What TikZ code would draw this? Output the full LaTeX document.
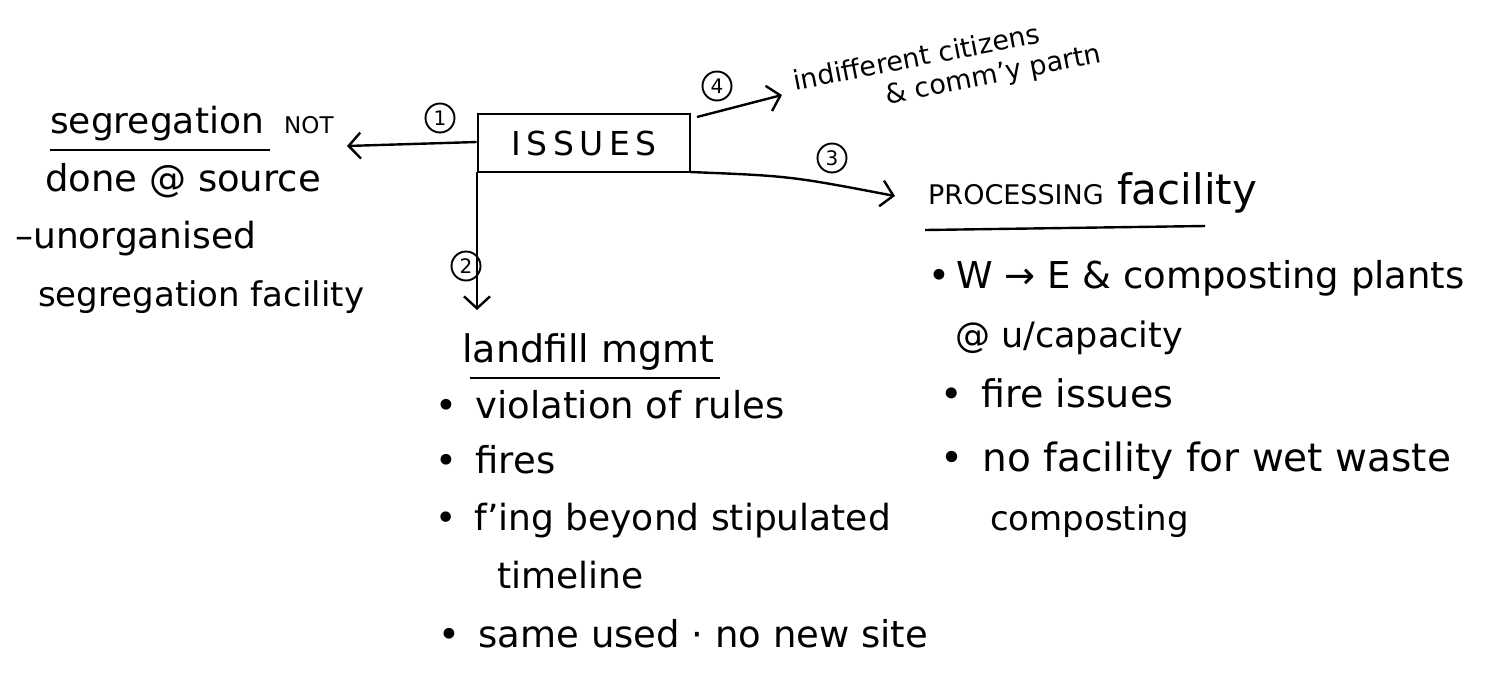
\documentclass[tikz,border=0pt]{standalone}
\usepackage{fontspec}
\setmainfont{DejaVu Sans}
\usetikzlibrary{arrows.meta}
\tikzset{
  txt/.style={font=\fontsize{36}{40}\selectfont, anchor=base west, inner sep=0pt},
  caps/.style={font=\fontsize{23}{26}\selectfont, anchor=base west, inner sep=0pt},
  ink/.style={line width=2.4pt, draw=black},
  arr/.style={ink, -{Straight Barb[length=12pt,width=26pt,line width=2.4pt]}},
  num/.style={circle, draw=black, line width=1.9pt, inner sep=1pt, minimum size=29pt, font=\fontsize{20}{22}\selectfont},
  issuesbox/.style={draw=black, line width=2.6pt, minimum width=212pt, minimum height=58pt, font=\fontsize{33}{36}\selectfont},
  rtxt/.style={font=\fontsize{27}{31}\selectfont, anchor=base west, inner sep=0pt, rotate=11, align=left}
}
\begin{document}
\begin{tikzpicture}[x=1pt,y=-1pt]
\useasboundingbox (0,0) rectangle (1502,675);
% central box
\node[issuesbox] (issues) at (584,143) {I\,S\,S\,U\,E\,S};
% left branch
\node[txt] (seg) at (50,133) {segregation};
\node[caps] (not) at (284,133) {NOT};
\node[txt, font=\fontsize{37}{40}\selectfont] (done) at (45,191) {done @ source};
\node[txt] (unorg) at (15,248) {--unorganised};
\node[txt, font=\fontsize{34}{40}\selectfont] (segfac) at (38,306) {segregation facility};
\draw[ink] (50,150) -- (270,150);
\coordinate (e1) at (347,146);
\draw[arr] (issues.west |- 0,142) -- (e1);
\node[num] (n1) at (440,118) {1};
% down branch
\coordinate (s2) at (477,172);
\coordinate (e2) at (477,310);
\draw[arr] (s2) -- (e2);
\node[num] (n2) at (466,266) {2};
\node[txt, font=\fontsize{38}{40}\selectfont] (land) at (462,362) {landfill mgmt};
\draw[ink] (470,378) -- (720,378);
\node[txt, font=\fontsize{37}{40}\selectfont] (l1) at (435,418) {\textbullet\enspace violation of rules};
\node[txt, font=\fontsize{37}{40}\selectfont] (l2) at (435,473) {\textbullet\enspace fires};
\node[txt, font=\fontsize{36}{40}\selectfont] (l3) at (435,530) {\textbullet\enspace f'ing beyond stipulated};
\node[txt] (l4) at (497,588) {timeline};
\node[txt, font=\fontsize{37}{40}\selectfont] (l5) at (438,647) {\textbullet\enspace same used · no new site};
% right branch (3)
\coordinate (s3) at (690,172);
\coordinate (e3) at (895,196);
\draw[arr] (s3) .. controls (790,176) .. (e3);
\node[num] (n3) at (832,158) {3};
\node[txt, font=\fontsize{42}{44}\selectfont] (proc) at (928,204) {{\fontsize{27}{30}\selectfont PROCESSING} facility};
\draw[ink] (925,230) -- (1205,226);
\node[txt, font=\fontsize{37}{40}\selectfont] (p1) at (928,288) {\textbullet\,W → E \& composting plants};
\node[txt, font=\fontsize{35}{40}\selectfont] (p2) at (955,347) {@ u/capacity};
\node[txt, font=\fontsize{38}{40}\selectfont] (p3) at (940,407) {\textbullet\enspace fire issues};
\node[txt, font=\fontsize{39}{40}\selectfont] (p4) at (940,471) {\textbullet\enspace no facility for wet waste};
\node[txt, font=\fontsize{34}{40}\selectfont] (p5) at (990,530) {composting};
% top branch (4)
\coordinate (s4) at (697,117);
\coordinate (e4) at (782,95);
\draw[arr] (s4) -- (e4);
\node[num] (n4) at (717,86) {4};
\node[rtxt] (cit) at (801,121) {indifferent citizens\\\hspace*{88pt}\& comm'y partn};
\end{tikzpicture}
\end{document}
